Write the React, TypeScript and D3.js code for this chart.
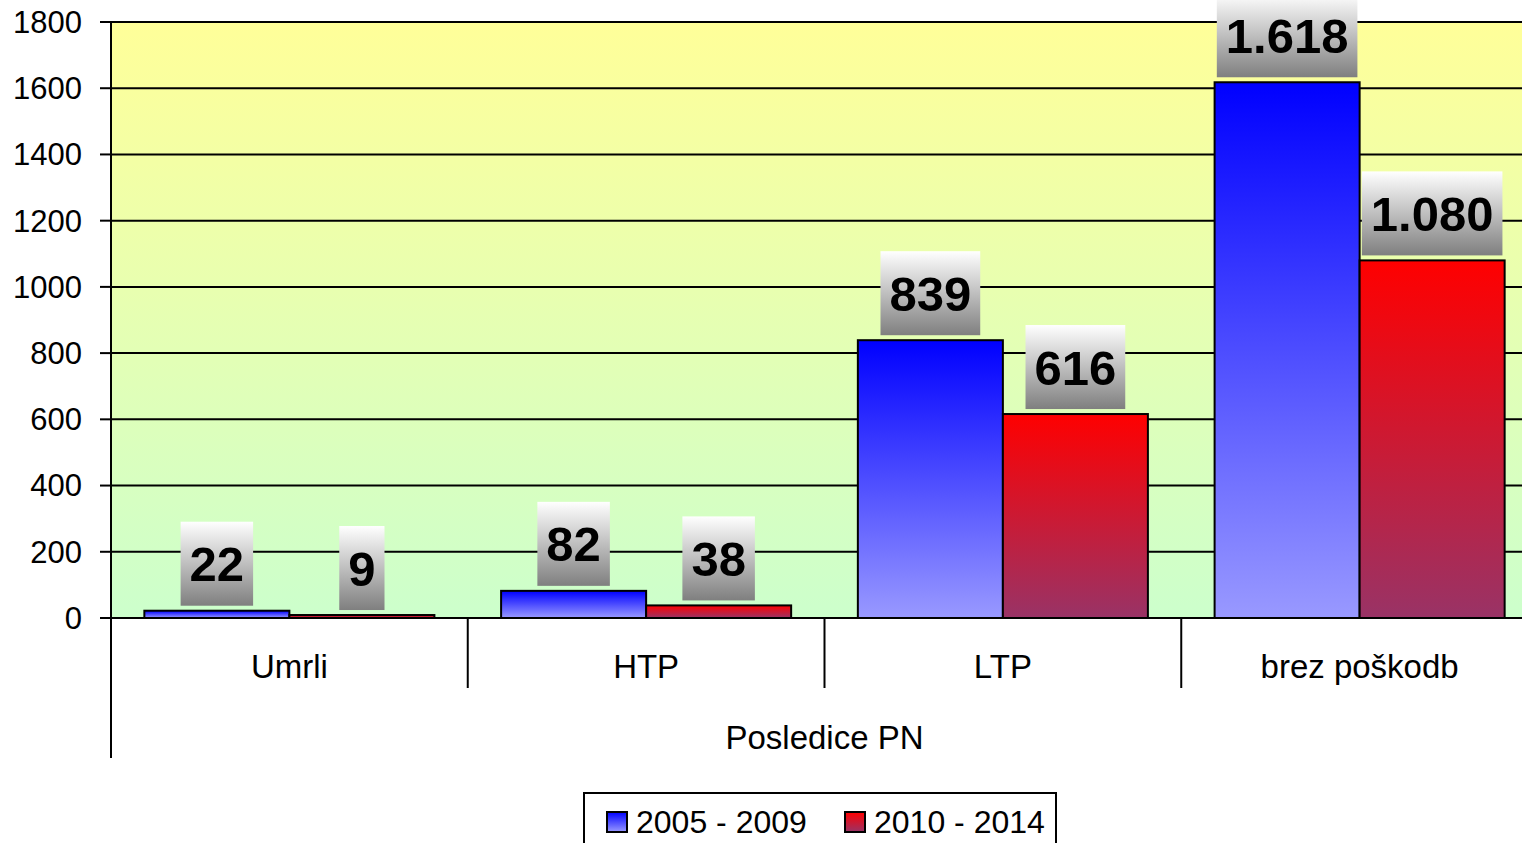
import React from "react";
import { scaleBand, scaleLinear, formatLocale } from "d3";

const categories = ["Umrli", "HTP", "LTP", "brez poškodb"];
const groupLabel = "Posledice PN";
const seriesNames = ["2005 - 2009", "2010 - 2014"];
const values2005 = [22, 82, 839, 1618];
const values2010 = [9, 38, 616, 1080];
const yTicks = [0, 200, 400, 600, 800, 1000, 1200, 1400, 1600, 1800];

const fmt = formatLocale({
  decimal: ",",
  thousands: ".",
  grouping: [3],
  currency: ["", " €"],
}).format(",d");

// rough Arial bold width of a label
const labelWidth = (s: string, size: number) =>
  s.split("").reduce((w, c) => w + (c === "." ? 0.278 : 0.556), 0) * size;

function App() {
  const width = 1522;
  const height = 843;
  const margin = { top: 22, left: 111, bottom: 225 };
  const plotRight = 1538;
  const y0 = height - margin.bottom;

  const xScale = scaleBand<string>()
    .domain(categories)
    .range([margin.left, plotRight])
    .padding(0);

  const innerScale = scaleBand<string>()
    .domain(seriesNames)
    .range([0, xScale.bandwidth()])
    .paddingInner(0)
    .paddingOuter(0.23);

  const yScale = scaleLinear().domain([0, 1800]).range([y0, margin.top]);

  const series = [
    { name: seriesNames[0], values: values2005, fill: "url(#blueGrad)" },
    { name: seriesNames[1], values: values2010, fill: "url(#redGrad)" },
  ];

  const font = "Arial, 'Liberation Sans', sans-serif";
  const labelSize = 49;

  return (
    <svg
      width={width}
      height={height}
      style={{ position: "absolute", left: 0, top: 0, fontFamily: font }}
    >
      <defs>
        <linearGradient id="bgGrad" x1="0" y1="0" x2="0" y2="1">
          <stop offset="0%" stopColor="#ffff99" />
          <stop offset="100%" stopColor="#ccffcc" />
        </linearGradient>
        <linearGradient id="blueGrad" x1="0" y1="0" x2="0" y2="1">
          <stop offset="0%" stopColor="#0000ff" />
          <stop offset="100%" stopColor="#9999ff" />
        </linearGradient>
        <linearGradient id="redGrad" x1="0" y1="0" x2="0" y2="1">
          <stop offset="0%" stopColor="#ff0000" />
          <stop offset="100%" stopColor="#993366" />
        </linearGradient>
        <linearGradient id="labelGrad" x1="0" y1="0" x2="0" y2="1">
          <stop offset="0%" stopColor="#ffffff" />
          <stop offset="100%" stopColor="#7f7f7f" />
        </linearGradient>
      </defs>

      {/* plot background */}
      <rect
        x={margin.left}
        y={margin.top}
        width={plotRight - margin.left}
        height={y0 - margin.top}
        fill="url(#bgGrad)"
      />
      <line
        x1={margin.left}
        x2={plotRight}
        y1={margin.top}
        y2={margin.top}
        stroke="#808080"
        strokeWidth={2}
      />

      {/* gridlines + y ticks */}
      {yTicks.map((t) => (
        <g key={t} transform={`translate(0,${yScale(t)})`}>
          {t > 0 && (
            <line x1={margin.left} x2={plotRight} stroke="#000" strokeWidth={2} />
          )}
          <line x1={margin.left - 11} x2={margin.left} stroke="#000" strokeWidth={2} />
          <text x={82} dy="0.35em" textAnchor="end" fontSize={31} fill="#000">
            {t}
          </text>
        </g>
      ))}

      {/* bars */}
      {series.map((s) =>
        categories.map((c, i) => {
          const x = (xScale(c) ?? 0) + (innerScale(s.name) ?? 0);
          const yTop = yScale(s.values[i]);
          return (
            <rect
              key={s.name + c}
              x={x}
              y={yTop}
              width={innerScale.bandwidth()}
              height={y0 - yTop}
              fill={s.fill}
              stroke="#000"
              strokeWidth={2}
            />
          );
        })
      )}

      {/* baseline + y axis */}
      <line x1={margin.left - 11} x2={plotRight} y1={y0} y2={y0} stroke="#000" strokeWidth={2} />
      <line x1={margin.left} x2={margin.left} y1={margin.top} y2={758} stroke="#000" strokeWidth={2} />

      {/* category separators and labels */}
      {categories.map((c, i) => (
        <g key={c}>
          {i > 0 && (
            <line
              x1={xScale(c)}
              x2={xScale(c)}
              y1={y0}
              y2={688}
              stroke="#000"
              strokeWidth={2}
            />
          )}
          <text
            x={(xScale(c) ?? 0) + xScale.bandwidth() / 2}
            y={666}
            dy="0.35em"
            textAnchor="middle"
            fontSize={33}
          >
            {c}
          </text>
        </g>
      ))}
      <text
        x={(margin.left + plotRight) / 2}
        y={737}
        dy="0.35em"
        textAnchor="middle"
        fontSize={33}
      >
        {groupLabel}
      </text>

      {/* value labels */}
      {series.map((s) =>
        categories.map((c, i) => {
          const cx =
            (xScale(c) ?? 0) + (innerScale(s.name) ?? 0) + innerScale.bandwidth() / 2;
          const label = fmt(s.values[i]);
          const w = labelWidth(label, labelSize) + 18;
          const h = 84;
          const bottom = yScale(s.values[i]) - 5;
          return (
            <g key={"l" + s.name + c}>
              <rect x={cx - w / 2} y={bottom - h} width={w} height={h} fill="url(#labelGrad)" />
              <text
                x={cx}
                y={bottom - h / 2}
                dy="0.36em"
                textAnchor="middle"
                fontSize={labelSize}
                fontWeight="bold"
                fill="#000"
              >
                {label}
              </text>
            </g>
          );
        })
      )}

      {/* legend */}
      <rect x={584} y={793} width={472} height={70} fill="#fff" stroke="#000" strokeWidth={2} />
      {series.map((s, i) => {
        const lx = i === 0 ? 607 : 845;
        return (
          <g key={"lg" + s.name}>
            <rect x={lx} y={812} width={20} height={20} fill={s.fill} stroke="#000" strokeWidth={2} />
            <text x={lx + 29} y={822} dy="0.35em" fontSize={32}>
              {s.name}
            </text>
          </g>
        );
      })}
    </svg>
  );
}

export default App;
